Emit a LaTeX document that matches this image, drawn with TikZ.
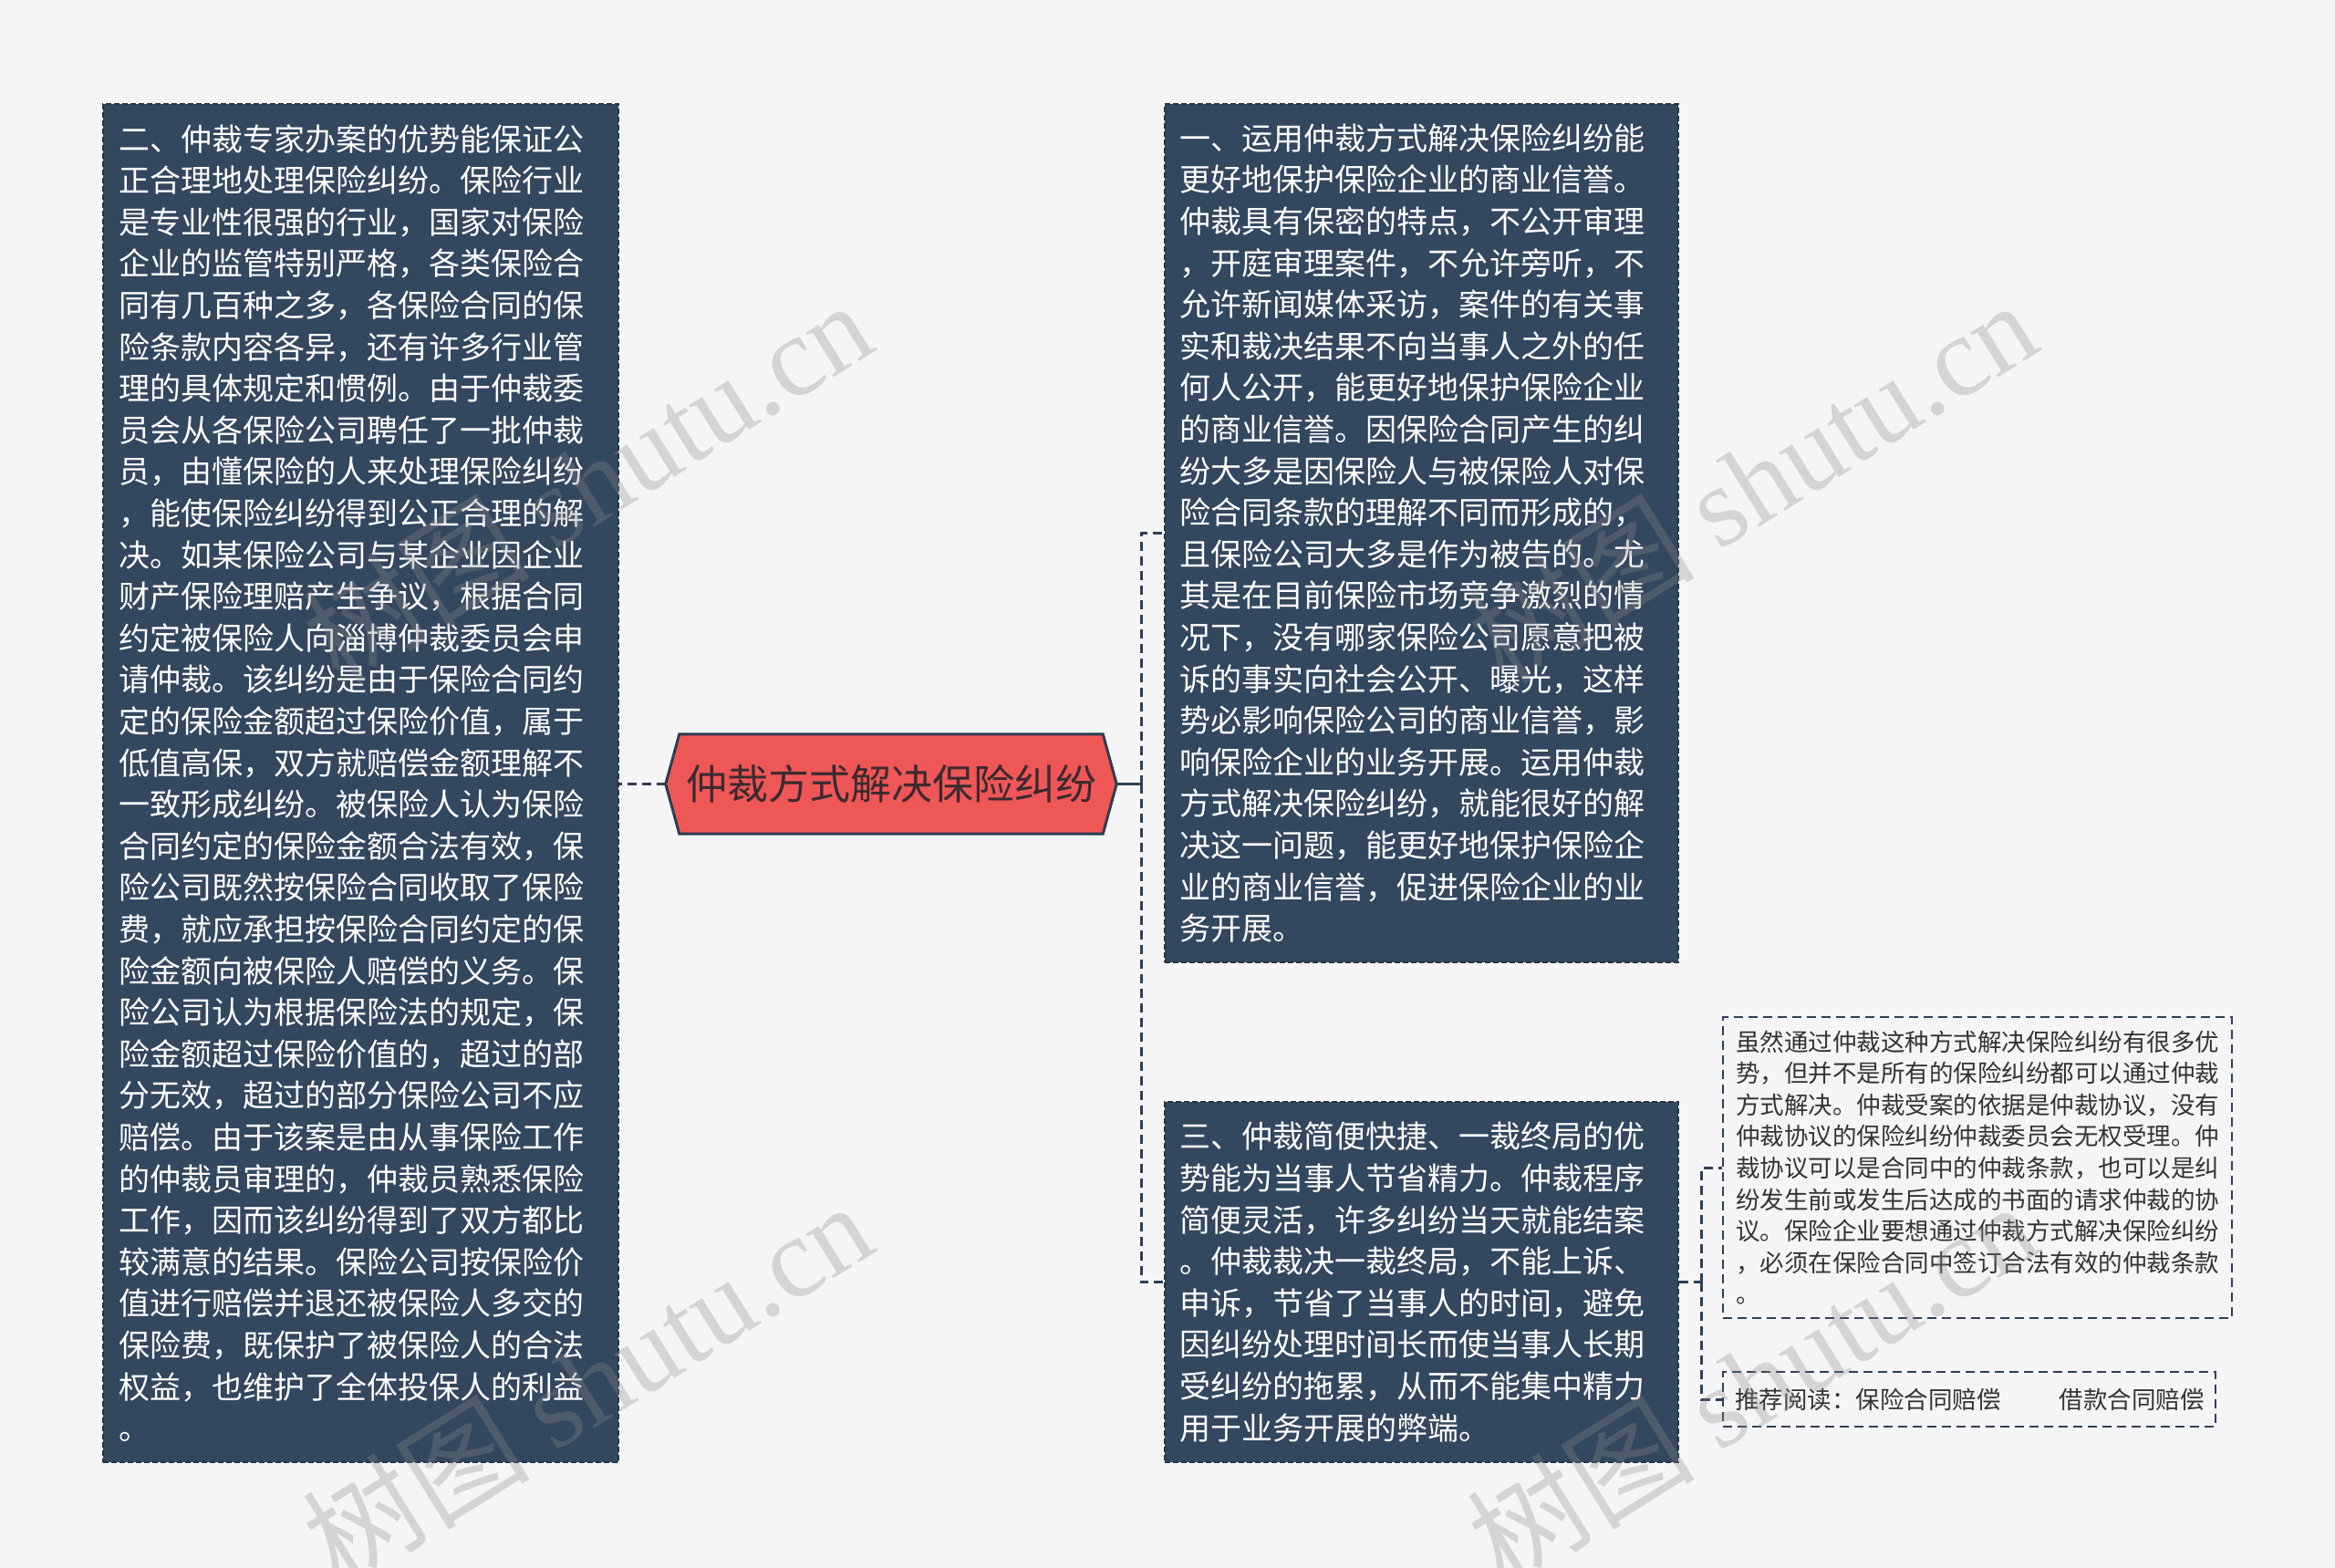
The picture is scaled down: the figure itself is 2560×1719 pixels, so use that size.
\documentclass[tikz,border=0pt]{standalone}
\usepackage{fontspec}
\setmainfont{Noto Sans CJK SC}
\newfontfamily\wmlatin{Liberation Serif}
\usetikzlibrary{calc,backgrounds}
\definecolor{bgc}{HTML}{F5F5F5}
\definecolor{boxfill}{HTML}{33475E}
\definecolor{boxline}{HTML}{253445}
\definecolor{connc}{HTML}{2E4057}
\definecolor{hexfill}{HTML}{EF5656}
\definecolor{hexline}{HTML}{2C3E50}
\definecolor{hextext}{HTML}{3B2A30}
\definecolor{smalltext}{HTML}{333333}
\definecolor{wmc}{HTML}{8A8A8A}
\begin{document}
\begin{tikzpicture}[x=1pt,y=-1pt,
  bigbox/.style={fill=boxfill, draw=boxline, dash pattern=on 6pt off 3pt, line width=1.5pt,
    text=white, align=left, text width=530pt, inner ysep=0pt,
    font=\fontsize{34pt}{45.6pt}\selectfont},
  smallbox/.style={draw=connc, dash pattern=on 10pt off 6pt, line width=1.8pt,
    text=smalltext, align=left, inner ysep=0pt,
    font=\fontsize{26.5pt}{34.6pt}\selectfont},
  hexnode/.style={inner sep=0pt, minimum width=494pt, minimum height=109pt,
    text=hextext, font=\fontsize{45pt}{50pt}\selectfont},
  connector/.style={draw=connc, line width=3pt, dash pattern=on 10pt off 6pt},
  solidconn/.style={draw=connc, line width=3pt},
  wmark/.style={text=wmc, opacity=0.3, rotate=32, inner sep=0pt,
    font=\fontsize{125pt}{125pt}\selectfont}
]
\useasboundingbox (0,0) rectangle (2560,1719);

% central topic
\node[hexnode] (c) at (977,859.5) {仲裁方式解决保险纠纷};
\begin{scope}[on background layer]
  \fill[bgc] (0,0) rectangle (2560,1719);
  \draw[fill=hexfill, draw=hexline, line width=3pt, line join=miter]
    (c.west) -- ([xshift=15pt]c.north west) -- ([xshift=-15pt]c.north east)
    -- (c.east) -- ([xshift=-15pt]c.south east) -- ([xshift=15pt]c.south west) -- cycle;
\end{scope}

% left box
\node[bigbox, minimum width=565pt, minimum height=1489pt] (L) at (395.5,858.5) {二、仲裁专家办案的优势能保证公\\
正合理地处理保险纠纷。保险行业\\
是专业性很强的行业，国家对保险\\
企业的监管特别严格，各类保险合\\
同有几百种之多，各保险合同的保\\
险条款内容各异，还有许多行业管\\
理的具体规定和惯例。由于仲裁委\\
员会从各保险公司聘任了一批仲裁\\
员，由懂保险的人来处理保险纠纷\\
，能使保险纠纷得到公正合理的解\\
决。如某保险公司与某企业因企业\\
财产保险理赔产生争议，根据合同\\
约定被保险人向淄博仲裁委员会申\\
请仲裁。该纠纷是由于保险合同约\\
定的保险金额超过保险价值，属于\\
低值高保，双方就赔偿金额理解不\\
一致形成纠纷。被保险人认为保险\\
合同约定的保险金额合法有效，保\\
险公司既然按保险合同收取了保险\\
费，就应承担按保险合同约定的保\\
险金额向被保险人赔偿的义务。保\\
险公司认为根据保险法的规定，保\\
险金额超过保险价值的，超过的部\\
分无效，超过的部分保险公司不应\\
赔偿。由于该案是由从事保险工作\\
的仲裁员审理的，仲裁员熟悉保险\\
工作，因而该纠纷得到了双方都比\\
较满意的结果。保险公司按保险价\\
值进行赔偿并退还被保险人多交的\\
保险费，既保护了被保险人的合法\\
权益，也维护了全体投保人的利益\\
。};

% right box 1
\node[bigbox, minimum width=563pt, minimum height=941pt] (R1) at (1558.5,584.5) {一、运用仲裁方式解决保险纠纷能\\
更好地保护保险企业的商业信誉。\\
仲裁具有保密的特点，不公开审理\\
，开庭审理案件，不允许旁听，不\\
允许新闻媒体采访，案件的有关事\\
实和裁决结果不向当事人之外的任\\
何人公开，能更好地保护保险企业\\
的商业信誉。因保险合同产生的纠\\
纷大多是因保险人与被保险人对保\\
险合同条款的理解不同而形成的，\\
且保险公司大多是作为被告的。尤\\
其是在目前保险市场竞争激烈的情\\
况下，没有哪家保险公司愿意把被\\
诉的事实向社会公开、曝光，这样\\
势必影响保险公司的商业信誉，影\\
响保险企业的业务开展。运用仲裁\\
方式解决保险纠纷，就能很好的解\\
决这一问题，能更好地保护保险企\\
业的商业信誉，促进保险企业的业\\
务开展。};

% right box 3
\node[bigbox, minimum width=563pt, minimum height=395pt] (R3) at (1558.5,1405.5) {三、仲裁简便快捷、一裁终局的优\\
势能为当事人节省精力。仲裁程序\\
简便灵活，许多纠纷当天就能结案\\
。仲裁裁决一裁终局，不能上诉、\\
申诉，节省了当事人的时间，避免\\
因纠纷处理时间长而使当事人长期\\
受纠纷的拖累，从而不能集中精力\\
用于业务开展的弊端。};

% small boxes
\node[smallbox, text width=530pt, minimum width=558pt, minimum height=330pt] (A) at (2168,1280) {虽然通过仲裁这种方式解决保险纠纷有很多优\\
势，但并不是所有的保险纠纷都可以通过仲裁\\
方式解决。仲裁受案的依据是仲裁协议，没有\\
仲裁协议的保险纠纷仲裁委员会无权受理。仲\\
裁协议可以是合同中的仲裁条款，也可以是纠\\
纷发生前或发生后达成的书面的请求仲裁的协\\
议。保险企业要想通过仲裁方式解决保险纠纷\\
，必须在保险合同中签订合法有效的仲裁条款\\
。};
\node[smallbox, text width=530pt, inner xsep=5pt, minimum width=540pt, minimum height=60pt] (B) at (2159,1534) {\hspace*{8pt}推荐阅读：保险合同赔偿\hspace{64pt}借款合同赔偿};

% connectors
\coordinate (j) at (1251,859.5);
\coordinate (k) at (1865,1405.5);
\draw[connector] (c.west) -- (c.west -| L.east);
\draw[solidconn] (c.east) -- (j);
\draw[connector] (j) |- (R1.west);
\draw[connector] (j) |- (R3.west);
\draw[connector] (R3.east) -- (k);
\draw[connector] (k) |- (A.west);
\draw[connector] (k) |- (B.west);

% watermarks
\node[wmark] (w1) at (643,527) {树图 {\wmlatin shutu.cn}};
\node[wmark] (w2) at (643,1515) {树图 {\wmlatin shutu.cn}};
\node[wmark] (w3) at (1920,527) {树图 {\wmlatin shutu.cn}};
\node[wmark] (w4) at (1920,1515) {树图 {\wmlatin shutu.cn}};
\end{tikzpicture}
\end{document}
